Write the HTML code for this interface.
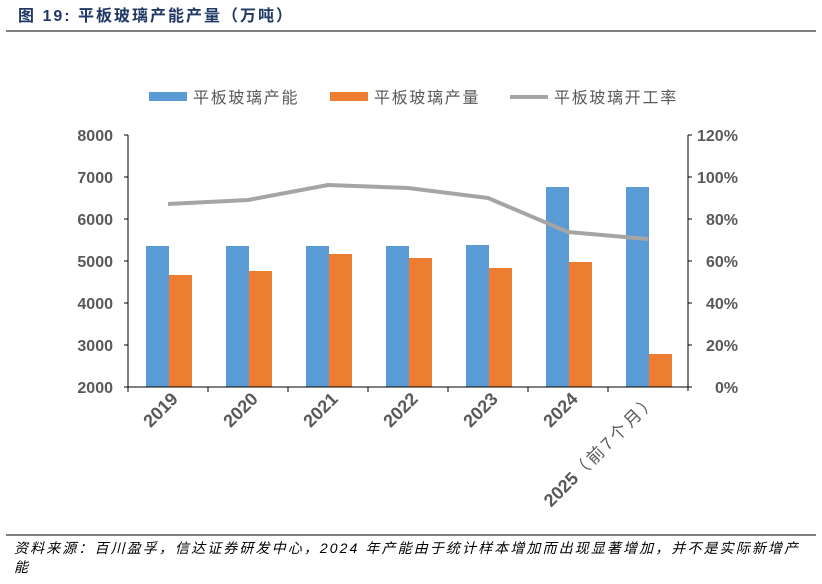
<!DOCTYPE html>
<html><head><meta charset="utf-8"><style>
body{margin:0;background:#fff;width:822px;height:579px;overflow:hidden;font-family:"Liberation Sans","Noto Sans CJK SC",sans-serif}
</style></head><body>
<svg width="822" height="579" xmlns="http://www.w3.org/2000/svg" font-family="Liberation Sans, Noto Sans CJK SC, sans-serif">
<text x="18" y="21" font-size="16" font-weight="bold" fill="#1f3864" letter-spacing="2">图 19:  平板玻璃产能产量（万吨）</text>
<line x1="6" y1="31" x2="816" y2="31" stroke="#555" stroke-width="1.5"/>
<!-- legend -->
<rect x="149" y="92" width="38" height="9" fill="#5b9bd5"/>
<text x="193" y="103" font-size="16" fill="#595959" letter-spacing="1.7">平板玻璃产能</text>
<rect x="330" y="92" width="38" height="9" fill="#ed7d31"/>
<text x="374" y="103" font-size="16" fill="#595959" letter-spacing="1.7">平板玻璃产量</text>
<line x1="510" y1="97" x2="548" y2="97" stroke="#a5a5a5" stroke-width="4"/>
<text x="554" y="103" font-size="16" fill="#595959" letter-spacing="1.7">平板玻璃开工率</text>
<!-- axes -->
<g font-size="16" font-weight="bold" fill="#595959">
<text x="113" y="141" text-anchor="end">8000</text>
<text x="113" y="183" text-anchor="end">7000</text>
<text x="113" y="225" text-anchor="end">6000</text>
<text x="113" y="267" text-anchor="end">5000</text>
<text x="113" y="309" text-anchor="end">4000</text>
<text x="113" y="351" text-anchor="end">3000</text>
<text x="113" y="393" text-anchor="end">2000</text>
<text x="697" y="141">120%</text>
<text x="697" y="183">100%</text>
<text x="706" y="225">80%</text>
<text x="706" y="267">60%</text>
<text x="706" y="309">40%</text>
<text x="706" y="351">20%</text>
<text x="715" y="393">0%</text>
</g>
<g stroke="#000" stroke-width="1">
<line x1="128" y1="135" x2="128" y2="391"/>
<line x1="688" y1="135" x2="688" y2="391"/>
<line x1="124" y1="135" x2="128" y2="135"/><line x1="124" y1="177" x2="128" y2="177"/><line x1="124" y1="219" x2="128" y2="219"/><line x1="124" y1="261" x2="128" y2="261"/><line x1="124" y1="303" x2="128" y2="303"/><line x1="124" y1="345" x2="128" y2="345"/>
<line x1="688" y1="135" x2="692" y2="135"/><line x1="688" y1="177" x2="692" y2="177"/><line x1="688" y1="219" x2="692" y2="219"/><line x1="688" y1="261" x2="692" y2="261"/><line x1="688" y1="303" x2="692" y2="303"/><line x1="688" y1="345" x2="692" y2="345"/>
</g>
<!-- bars -->
<g fill="#5b9bd5">
<rect x="146" y="246" width="23" height="141"/>
<rect x="226" y="246" width="23" height="141"/>
<rect x="306" y="246" width="23" height="141"/>
<rect x="386" y="246" width="23" height="141"/>
<rect x="466" y="245" width="23" height="142"/>
<rect x="546" y="187" width="23" height="200"/>
<rect x="626" y="187" width="23" height="200"/>
</g>
<g fill="#ed7d31">
<rect x="169" y="275" width="23" height="112"/>
<rect x="249" y="271" width="23" height="116"/>
<rect x="329" y="254" width="23" height="133"/>
<rect x="409" y="258" width="23" height="129"/>
<rect x="489" y="268" width="23" height="119"/>
<rect x="569" y="262" width="23" height="125"/>
<rect x="649" y="354" width="23" height="33"/>
</g>
<line x1="124" y1="387" x2="692" y2="387" stroke="#000"/>
<g stroke="#000"><line x1="128" y1="387" x2="128" y2="392"/><line x1="208" y1="387" x2="208" y2="392"/><line x1="288" y1="387" x2="288" y2="392"/><line x1="368" y1="387" x2="368" y2="392"/><line x1="448" y1="387" x2="448" y2="392"/><line x1="528" y1="387" x2="528" y2="392"/><line x1="608" y1="387" x2="608" y2="392"/></g>
<polyline points="168,204 248,200 328,185 408,188 488,198 568,232 648,239" fill="none" stroke="#a5a5a5" stroke-width="4" stroke-linejoin="round"/>
<!-- x labels -->
<g font-size="18" font-weight="bold" fill="#595959" text-anchor="end">
<text transform="translate(179,400) rotate(-45)">2019</text>
<text transform="translate(259,400) rotate(-45)">2020</text>
<text transform="translate(339,400) rotate(-45)">2021</text>
<text transform="translate(419,400) rotate(-45)">2022</text>
<text transform="translate(499,400) rotate(-45)">2023</text>
<text transform="translate(579,400) rotate(-45)">2024</text>
<text transform="translate(659,400) rotate(-45)">2025<tspan font-weight="normal" font-size="17" letter-spacing="3">（前7个月）</tspan></text>
</g>
<line x1="6" y1="535" x2="816" y2="535" stroke="#555" stroke-width="1.5"/>
<text x="14" y="553" font-size="14" font-style="italic" fill="#000" letter-spacing="2.1">资料来源：百川盈孚，信达证券研发中心，2024 年产能由于统计样本增加而出现显著增加，并不是实际新增产</text>
<text x="14" y="572" font-size="14" font-style="italic" fill="#000">能</text>
</svg>
</body></html>
